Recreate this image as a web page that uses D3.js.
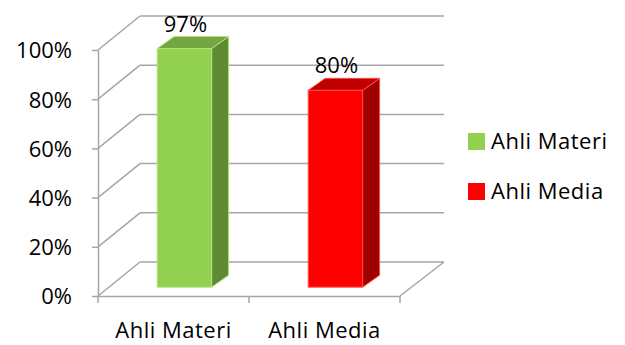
<!DOCTYPE html>
<html>
<head>
<meta charset="utf-8">
<script src="https://cdn.jsdelivr.net/npm/d3@7"></script>
<style>
  html, body { margin: 0; padding: 0; background: #fff; }
  svg { display: block; }
  text { font-family: "Open Sans", "Noto Sans", sans-serif; fill: #000; }
</style>
</head>
<body>
<svg id="chart" width="625" height="345"></svg>
<script>
const categories = ["Ahli Materi", "Ahli Media"];
const values = [0.97, 0.80];
const valueLabels = ["97%", "80%"];
const frontColors = ["#92D050", "#FF0000"];
const topColors = ["#74A641", "#C00000"];
const sideColors = ["#5E8B31", "#A00000"];
const edgeColors = ["#B0E37A", "#FF4A4A"];
const tickValues = [0, 0.2, 0.4, 0.6, 0.8, 1.0];

(function () {
const svg = d3.select("#chart");
const plotLeft = 98, plotRight = 400, plotBottom = 296, plotTop = 50;
const depthX = 42, depthY = -34;           // wall depth offset
const barDepthX = 17, barDepthY = -12;     // bar depth offset
const barFront = 0.26;                     // bar front position in depth (fraction)
const barWidthFrac = 0.36;
const grid = "#A6A6A6";

const x = d3.scaleBand().domain(categories).range([plotLeft, plotRight]).padding(0);
const y = d3.scaleLinear().domain([0, 1]).range([plotBottom, plotTop]);

const g = svg.append("g");

// Left wall diagonals + back wall gridlines
tickValues.forEach(v => {
  g.append("line")
    .attr("x1", plotLeft).attr("y1", y(v))
    .attr("x2", plotLeft + depthX).attr("y2", y(v) + depthY)
    .attr("stroke", grid).attr("stroke-width", 1.5);
  g.append("line")
    .attr("x1", plotLeft + depthX).attr("y1", y(v) + depthY)
    .attr("x2", plotRight + depthX + 2).attr("y2", y(v) + depthY)
    .attr("stroke", grid).attr("stroke-width", 1.5);
});
// Floor right edge
g.append("line")
  .attr("x1", plotRight).attr("y1", y(0))
  .attr("x2", plotRight + depthX + 2).attr("y2", y(0) + depthY)
  .attr("stroke", grid).attr("stroke-width", 1.5);

// Category boundary ticks on the floor's front edge
const boundaries = [x(categories[0])].concat(categories.map(c => x(c) + x.bandwidth()));
boundaries.forEach(bx => {
  g.append("line")
    .attr("x1", bx).attr("y1", y(0))
    .attr("x2", bx).attr("y2", y(0) + 7)
    .attr("stroke", grid).attr("stroke-width", 1.5);
});

// Y axis
const yAxis = d3.axisLeft(y)
  .tickValues(tickValues)
  .tickFormat(d3.format(".0%"))
  .tickSize(6)
  .tickSizeOuter(0)
  .tickPadding(20);
const ya = svg.append("g").attr("transform", `translate(${plotLeft},0)`).call(yAxis);
ya.select(".domain").attr("stroke", grid).attr("stroke-width", 1.5);
ya.selectAll(".tick line").attr("stroke", grid).attr("stroke-width", 1.5);
ya.selectAll(".tick text").style("font-size", "22px").attr("fill", "#000").attr("dy", "0.36em");

// X axis (labels at category centres, front edge line)
const xAxis = d3.axisBottom(x).tickSize(0).tickSizeOuter(0).tickPadding(26);
const xa = svg.append("g").attr("transform", `translate(0,${plotBottom})`).call(xAxis);
xa.select(".domain").attr("stroke", grid).attr("stroke-width", 1.5);
xa.selectAll(".tick text").style("font-size", "22px").attr("fill", "#000").attr("letter-spacing", "0.5px");

// Bars
const bw = x.bandwidth() * barWidthFrac;
categories.forEach((c, i) => {
  const x0 = x(c) + (x.bandwidth() - bw) / 2 + barFront * depthX;
  const x1 = x0 + bw;
  const yb = y(0) + barFront * depthY;
  const yt = y(values[i]) + barFront * depthY;
  const bar = svg.append("g");
  bar.append("path")
    .attr("d", `M${x1},${yt} L${x1 + barDepthX},${yt + barDepthY} L${x1 + barDepthX},${yb + barDepthY} L${x1},${yb} Z`)
    .attr("fill", sideColors[i]).attr("stroke", edgeColors[i]).attr("stroke-width", 1).attr("stroke-linejoin", "round");
  bar.append("path")
    .attr("d", `M${x0},${yt} L${x0 + barDepthX},${yt + barDepthY} L${x1 + barDepthX},${yt + barDepthY} L${x1},${yt} Z`)
    .attr("fill", topColors[i]).attr("stroke", edgeColors[i]).attr("stroke-width", 1).attr("stroke-linejoin", "round");
  bar.append("rect")
    .attr("x", x0).attr("y", yt).attr("width", bw).attr("height", yb - yt)
    .attr("fill", frontColors[i]).attr("stroke", edgeColors[i]).attr("stroke-width", 1);
  svg.append("text")
    .attr("x", x0 + bw / 2 + 1).attr("y", yt + barDepthY - 5)
    .attr("text-anchor", "middle")
    .style("font-size", "22px")
    .text(valueLabels[i]);
});

// Legend
const legend = svg.append("g");
categories.forEach((c, i) => {
  const ly = 133 + i * 50;
  legend.append("rect")
    .attr("x", 468).attr("y", ly).attr("width", 17).attr("height", 17)
    .attr("fill", frontColors[i]);
  legend.append("text")
    .attr("x", 491).attr("y", ly + 16)
    .style("font-size", "22px").attr("letter-spacing", "0.5px")
    .text(c);
});
})();
</script>
</body>
</html>
